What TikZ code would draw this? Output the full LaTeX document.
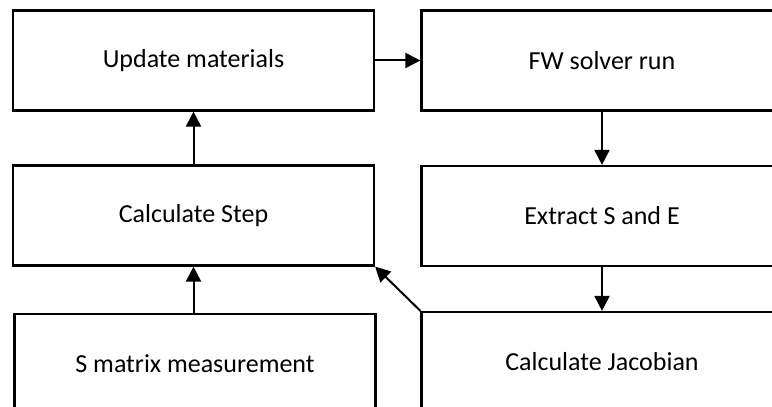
\documentclass[tikz,border=0pt]{standalone}
\usepackage{fontspec}
\setmainfont{Carlito}
\usetikzlibrary{arrows.meta}
\tikzset{>={Triangle[length=7.5pt,width=7.5pt]}}
\tikzset{stepbox/.style={draw,line width=1.1pt,minimum width=180.5pt,
  minimum height=50pt,inner sep=0pt,font=\fontsize{13}{15}\selectfont},
  link/.style={->,line width=1pt}}
\begin{document}
\begin{tikzpicture}[x=0.5pt,y=0.5pt]
\useasboundingbox (0,0) rectangle (772,407);
\clip (0,0) rectangle (772,407);
\node[stepbox] (upd) at (193.5,346.5) {Update materials};
\node[stepbox] (fw) at (602,346.5) {FW solver run};
\node[stepbox] (step) at (193.5,191.5) {Calculate Step};
\node[stepbox] (ext) at (602,191) {Extract S and E};
\node[stepbox] (meas) at (195,43) {S matrix measurement};
\node[stepbox] (jac) at (602,45) {Calculate Jacobian};
\draw[link] (upd) -- (fw);
\draw[link] (fw) -- (ext);
\draw[link] (ext) -- (jac);
\draw[link] (jac.north west) -- (step.south east);
\draw[link] (meas.north -| step.south) -- (step);
\draw[link] (step) -- (upd);
\end{tikzpicture}
\end{document}
